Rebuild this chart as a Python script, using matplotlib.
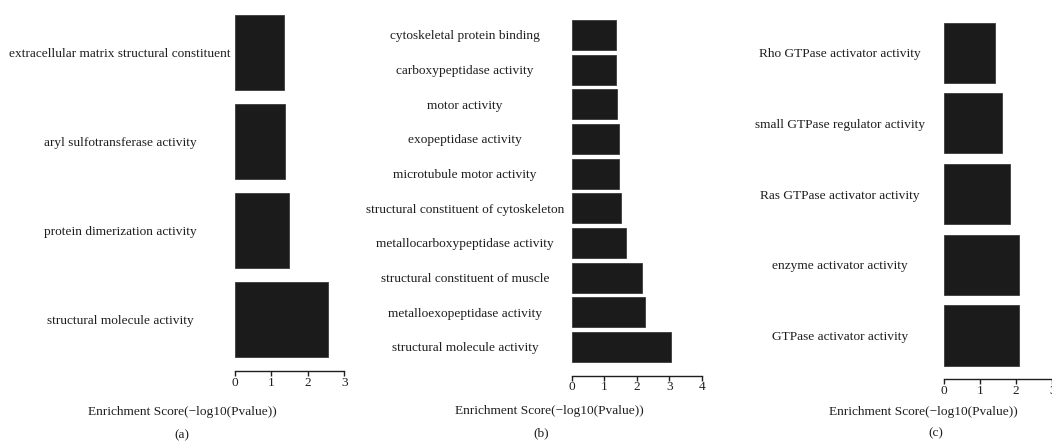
import matplotlib
matplotlib.use("Agg")
import matplotlib.pyplot as plt

plt.rcParams["font.family"] = ["Liberation Serif", "DejaVu Serif"]

W, H = 1052, 441
DPI = 100

# GO molecular-function terms, listed top to bottom, with -log10(P) scores
terms_a = [
    "extracellular matrix structural constituent",
    "aryl sulfotransferase activity",
    "protein dimerization activity",
    "structural molecule activity",
]
scores_a = [1.34, 1.36, 1.48, 2.56]

terms_b = [
    "cytoskeletal protein binding",
    "carboxypeptidase activity",
    "motor activity",
    "exopeptidase activity",
    "microtubule motor activity",
    "structural constituent of cytoskeleton",
    "metallocarboxypeptidase activity",
    "structural constituent of muscle",
    "metalloexopeptidase activity",
    "structural molecule activity",
]
scores_b = [1.35, 1.36, 1.38, 1.47, 1.47, 1.52, 1.66, 2.17, 2.27, 3.07]

terms_c = [
    "Rho GTPase activator activity",
    "small GTPase regulator activity",
    "Ras GTPase activator activity",
    "enzyme activator activity",
    "GTPase activator activity",
]
scores_c = [1.42, 1.62, 1.84, 2.08, 2.09]

x_ticks_a = [0, 1, 2, 3]
x_ticks_b = [0, 1, 2, 3, 4]
x_ticks_c = [0, 1, 2, 3]

panels = [
    # axes left/right/top/axis-line in px, ylim, bar height,
    # label centre x, xlabel and caption positions in px
    dict(terms=terms_a, scores=scores_a, ticks=x_ticks_a,
         left=235, right=344.2, top=5, base=371, ylim=(3.579, -0.534), bh=0.84,
         label_x=120, xlab=(182, 412), cap=(182, 435), tag="(a)"),
    dict(terms=terms_b, scores=scores_b, ticks=x_ticks_b,
         left=571.7, right=701.7, top=5, base=375.7, ylim=(9.83, -0.865), bh=0.865,
         label_x=465, xlab=(549, 411), cap=(541, 433), tag="(b)"),
    dict(terms=terms_c, scores=scores_c, ticks=x_ticks_c,
         left=943.7, right=1052.3, top=5, base=379, ylim=(4.615, -0.675), bh=0.85,
         label_x=840, xlab=(923, 412), cap=(936, 433), tag="(c)"),
]

BAR = "#1b1b1b"
INK = "#1e1e1e"
FS = 9.6

fig = plt.figure(figsize=(W / DPI, H / DPI), dpi=DPI)
fig.patch.set_facecolor("white")


def fx(px):
    return px / W


def fy(py):
    return 1 - py / H


for p in panels:
    ax = fig.add_axes([fx(p["left"]), fy(p["base"]),
                       fx(p["right"] - p["left"]), (p["base"] - p["top"]) / H])
    ax.patch.set_alpha(0)
    pos = list(range(len(p["terms"])))
    ax.barh(pos, p["scores"], height=p["bh"], color=BAR,
            edgecolor="#3a3a3a", linewidth=0.6)
    ax.set_xlim(p["ticks"][0], p["ticks"][-1])
    ax.set_ylim(*p["ylim"])

    for side in ("top", "right", "left"):
        ax.spines[side].set_visible(False)
    ax.spines["bottom"].set_color(INK)
    ax.spines["bottom"].set_linewidth(1.0)
    ax.spines["bottom"].set_bounds(p["ticks"][0], p["ticks"][-1])

    ax.set_xticks(p["ticks"])
    ax.tick_params(axis="x", direction="out", length=3.5, width=1.0,
                   color=INK, labelcolor=INK, labelsize=FS, pad=0.5)

    # category names sit centred in the space left of the bars
    pad_pt = (p["left"] - p["label_x"]) * 72 / DPI
    ax.set_yticks(pos)
    ax.set_yticklabels(p["terms"], fontsize=FS, color=INK, ha="center")
    ax.tick_params(axis="y", length=0, pad=pad_pt)

    fig.text(fx(p["xlab"][0]), fy(p["xlab"][1]),
             "Enrichment Score(\u2212log10(Pvalue))",
             ha="center", va="center", fontsize=FS, color=INK)
    fig.text(fx(p["cap"][0]), fy(p["cap"][1]), p["tag"],
             ha="center", va="center", fontsize=FS, color=INK)

fig.savefig("out.png", dpi=DPI, facecolor="white")
